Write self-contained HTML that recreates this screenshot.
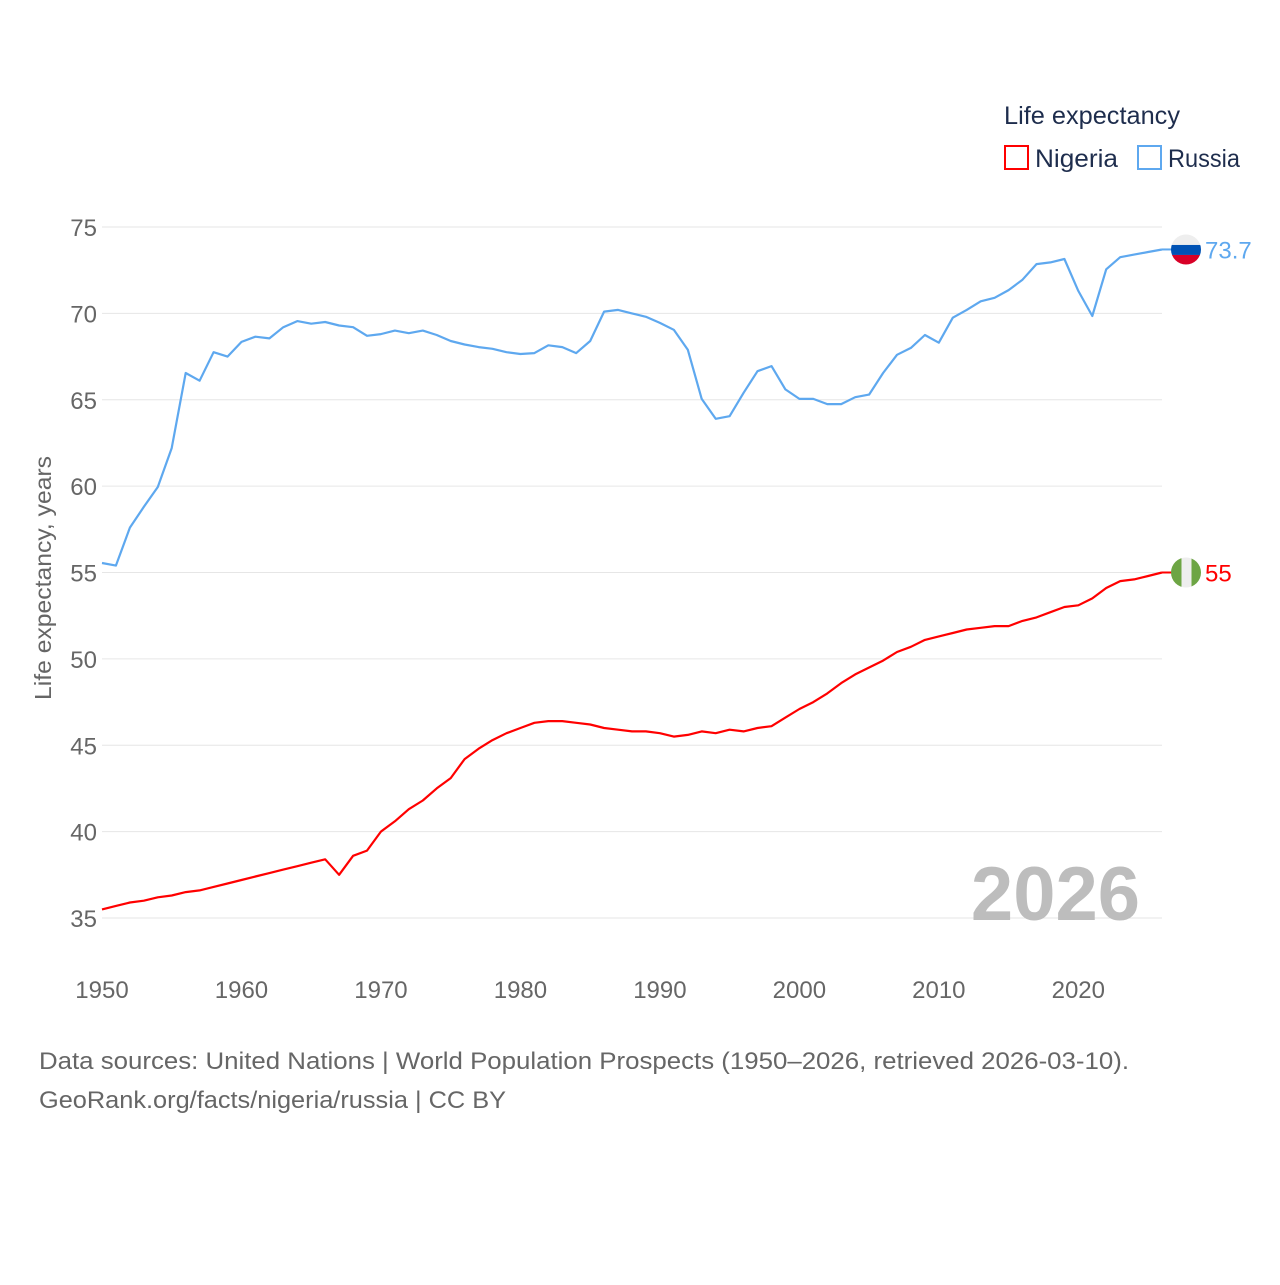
<!DOCTYPE html>
<html><head><meta charset="utf-8"><style>
body{margin:0;background:#fff;width:1280px;height:1280px;overflow:hidden;font-family:"Liberation Sans",sans-serif}
</style></head><body>
<svg id="chart" width="1280" height="1280" xmlns="http://www.w3.org/2000/svg" font-family="Liberation Sans, sans-serif">
<g id="grid"></g>
<g id="yticks"></g>
<g id="xticks"></g>
<text transform="translate(51,578) rotate(-90)" text-anchor="middle" font-size="23" fill="#666" textLength="244" lengthAdjust="spacingAndGlyphs">Life expectancy, years</text>
<text x="1140" y="920" text-anchor="end" font-size="76" font-weight="bold" fill="#bdbdbd">2026</text>
<g id="series"></g>
<g>
<text x="1004" y="124" font-size="25" fill="#1e2d4d" textLength="176" lengthAdjust="spacingAndGlyphs">Life expectancy</text>
<g><rect x="1005" y="146" width="23" height="23" fill="none" stroke="#ff0000" stroke-width="2"/><text x="1035" y="167" font-size="25" fill="#1e2d4d" textLength="83" lengthAdjust="spacingAndGlyphs">Nigeria</text></g>
<g><rect x="1138" y="146" width="23" height="23" fill="none" stroke="#5ea8ef" stroke-width="2"/><text x="1168" y="167" font-size="25" fill="#1e2d4d" textLength="72" lengthAdjust="spacingAndGlyphs">Russia</text></g>
</g>
<text x="39" y="1069" font-size="24" fill="#666" textLength="1090" lengthAdjust="spacingAndGlyphs">Data sources: United Nations | World Population Prospects (1950–2026, retrieved 2026-03-10).</text>
<text x="39" y="1108" font-size="24" fill="#666" textLength="467" lengthAdjust="spacingAndGlyphs">GeoRank.org/facts/nigeria/russia | CC BY</text>
</svg>
<script>
const years=[];for(let y=1950;y<=2026;y++)years.push(y);
const russia=[55.55,55.4,57.6,58.8,59.95,62.2,66.55,66.1,67.75,67.5,68.35,68.65,68.55,69.2,69.55,69.4,69.5,69.3,69.2,68.7,68.8,69.0,68.85,69.0,68.75,68.4,68.2,68.05,67.95,67.75,67.65,67.7,68.15,68.05,67.7,68.4,70.1,70.2,70.0,69.8,69.45,69.05,67.9,65.05,63.9,64.05,65.4,66.65,66.95,65.6,65.05,65.05,64.75,64.75,65.15,65.3,66.55,67.6,68.0,68.75,68.3,69.75,70.2,70.7,70.9,71.35,71.95,72.85,72.95,73.15,71.3,69.85,72.55,73.25,73.4,73.55,73.7];
const nigeria=[35.5,35.7,35.9,36.0,36.2,36.3,36.5,36.6,36.8,37.0,37.2,37.4,37.6,37.8,38.0,38.2,38.4,37.5,38.6,38.9,40.0,40.6,41.3,41.8,42.5,43.1,44.2,44.8,45.3,45.7,46.0,46.3,46.4,46.4,46.3,46.2,46.0,45.9,45.8,45.8,45.7,45.5,45.6,45.8,45.7,45.9,45.8,46.0,46.1,46.6,47.1,47.5,48.0,48.6,49.1,49.5,49.9,50.4,50.7,51.1,51.3,51.5,51.7,51.8,51.9,51.9,52.2,52.4,52.7,53.0,53.1,53.5,54.1,54.5,54.6,54.8,55.0];
const yTicks=[35,40,45,50,55,60,65,70,75];
const xTicks=[1950,1960,1970,1980,1990,2000,2010,2020];
const NS="http://www.w3.org/2000/svg";
const X=y=>102+(y-1950)*(1162-102)/76;
const Y=v=>918-(v-35)*(918-227)/40;
function mk(t,a,p){const e=document.createElementNS(NS,t);for(const k in a)e.setAttribute(k,a[k]);p.appendChild(e);return e;}
const grid=document.getElementById('grid'),yt=document.getElementById('yticks'),xt=document.getElementById('xticks'),ser=document.getElementById('series');
yTicks.forEach(v=>{
 const l=mk('line',{x1:102,x2:1162,y1:Y(v),y2:Y(v),stroke:'#e6e6e6','stroke-width':1},grid);
 
 
 const t=mk('text',{x:97,y:Y(v)+9,'text-anchor':'end','font-size':24,fill:'#666'},yt);t.textContent=v;
 
 
});
xTicks.forEach(v=>{
 const t=mk('text',{x:X(v),y:998,'text-anchor':'middle','font-size':24,fill:'#666'},xt);t.textContent=v;
 
 
});
function line(data,color,name){
 const d=data.map((v,i)=>(i?'L':'M')+X(years[i]).toFixed(1)+','+Y(v).toFixed(1)).join('');
 const p=mk('path',{d:d,fill:'none',stroke:color,'stroke-width':2.2,'stroke-linejoin':'round'},ser);
 
 
}
line(russia,'#5ea8ef','russia');line(nigeria,'#ff0000','nigeria');
function endMark(data,name,color,flag){
 const v=data[data.length-1],cy=Y(v),cx=1186,r=15;
 const g=mk('g',{},ser);
 
 
 mk('line',{x1:1162,x2:1172,y1:cy,y2:cy,stroke:color,'stroke-width':2},g);
 const cid='clip-'+name;const cp=mk('clipPath',{id:cid},g);mk('circle',{cx:cx,cy:cy,r:r},cp);
 const fg=mk('g',{'clip-path':'url(#'+cid+')'},g);
 if(flag==='ru'){mk('rect',{x:cx-r,y:cy-r,width:2*r,height:10.5,fill:'#eeeeee'},fg);mk('rect',{x:cx-r,y:cy-4.5,width:2*r,height:10,fill:'#0052b4'},fg);mk('rect',{x:cx-r,y:cy+5.5,width:2*r,height:10,fill:'#d80027'},fg);}
 else{mk('rect',{x:cx-r,y:cy-r,width:10.5,height:2*r,fill:'#6da544'},fg);mk('rect',{x:cx-4.5,y:cy-r,width:10,height:2*r,fill:'#eeeeee'},fg);mk('rect',{x:cx+5.5,y:cy-r,width:10,height:2*r,fill:'#6da544'},fg);}
 const t=mk('text',{x:1205,y:cy+9,'font-size':24,fill:color},g);t.textContent=String(v);
}
endMark(russia,'russia','#5ea8ef','ru');endMark(nigeria,'nigeria','#ff0000','ng');
</script>
</body></html>
